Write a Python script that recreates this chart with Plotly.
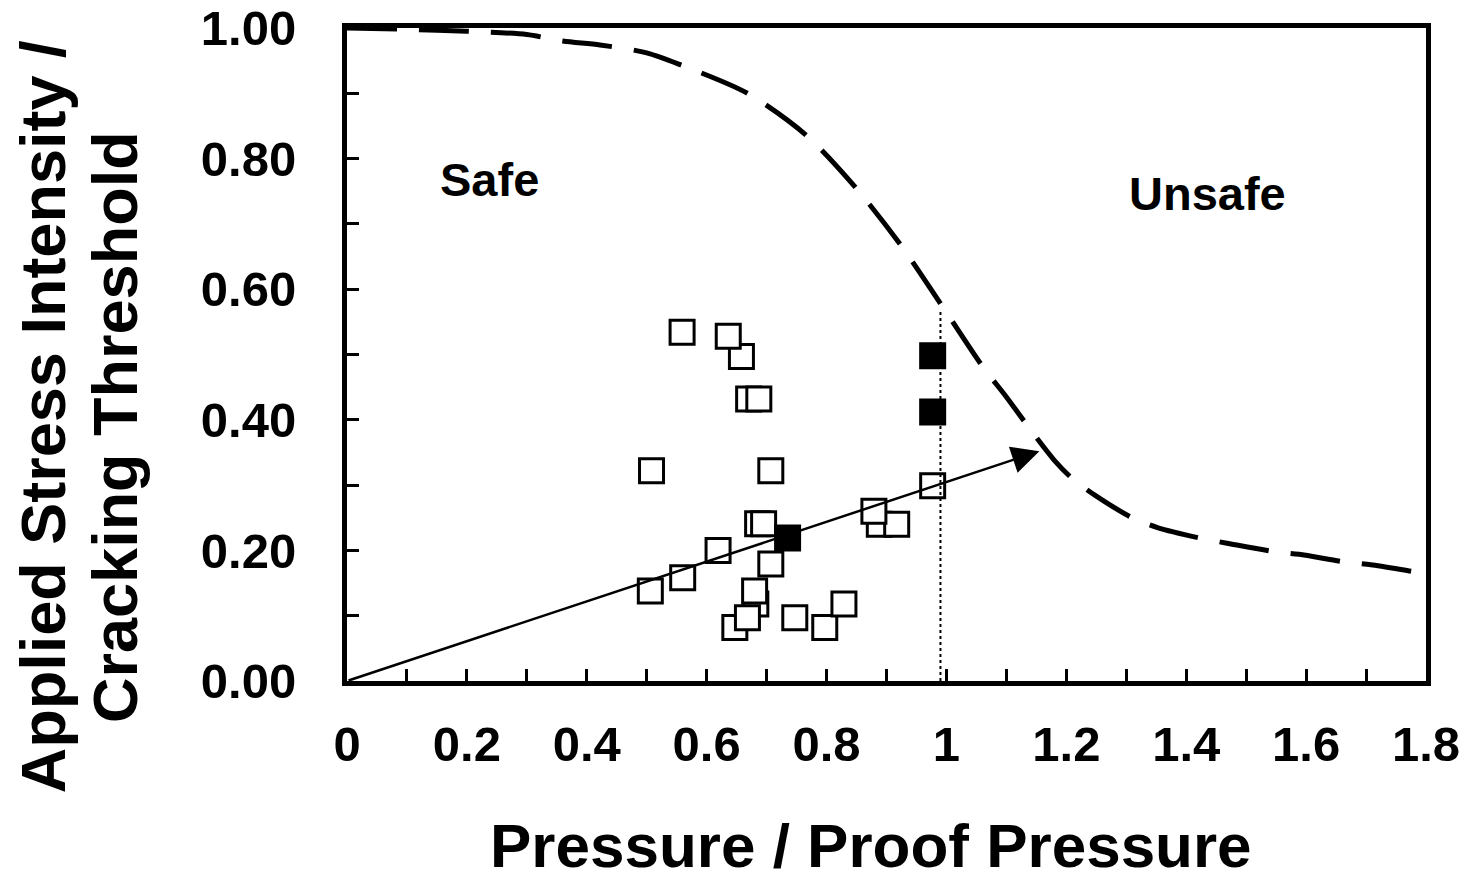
import plotly.graph_objects as go

# Threshold curve (dashed)
curve_x = [0.0, 0.1, 0.2, 0.3, 0.36, 0.422, 0.5, 0.558, 0.668, 0.767, 0.85, 0.925, 0.993,
           1.06, 1.10, 1.14, 1.18, 1.21, 1.25, 1.31, 1.352, 1.427, 1.468, 1.547, 1.588,
           1.667, 1.708, 1.79, 1.8]
curve_y = [1.0, 0.998, 0.995, 0.99, 0.98, 0.974, 0.962, 0.943, 0.9, 0.835, 0.754, 0.666, 0.574,
           0.482, 0.435, 0.385, 0.338, 0.31, 0.283, 0.25, 0.235, 0.218, 0.211, 0.198, 0.194,
           0.182, 0.178, 0.166, 0.165]

# Open squares (later entries drawn on top)
open_x = [0.559, 0.658, 0.636, 0.670, 0.687, 0.508, 0.707, 0.506, 0.560, 0.619, 0.685,
          0.695, 0.682, 0.680, 0.707, 0.647, 0.668, 0.747, 0.797, 0.829, 0.888, 0.917,
          0.879, 0.977]
open_y = [0.534, 0.497, 0.528, 0.432, 0.432, 0.322, 0.322, 0.138, 0.158, 0.200, 0.241,
          0.241, 0.118, 0.138, 0.179, 0.082, 0.097, 0.097, 0.082, 0.118, 0.240, 0.240,
          0.260, 0.299]

# Filled squares
filled_x = [0.977, 0.977, 0.735]
filled_y = [0.498, 0.412, 0.219]

# Dotted vertical reference at proof pressure
dot_x = [0.99, 0.99]
dot_y = [0.0, 0.565]

# Arrow (load line)
arrow_start = (0.0, 0.0)
arrow_end = (1.155, 0.352)

x_tickvals = [0, 0.2, 0.4, 0.6, 0.8, 1.0, 1.2, 1.4, 1.6, 1.8]
x_ticktext = ["0", "0.2", "0.4", "0.6", "0.8", "1", "1.2", "1.4", "1.6", "1.8"]
y_tickvals = [0.0, 0.2, 0.4, 0.6, 0.8, 1.0]
y_ticktext = ["0.00", "0.20", "0.40", "0.60", "0.80", "1.00"]

FONT = "Liberation Sans"

fig = go.Figure()

fig.add_trace(go.Scatter(x=open_x, y=open_y, mode="markers",
                         marker=dict(symbol="square", size=24, color="white",
                                     line=dict(width=3, color="black")),
                         showlegend=False))
fig.add_trace(go.Scatter(x=filled_x, y=filled_y, mode="markers",
                         marker=dict(symbol="square", size=25, color="black",
                                     line=dict(width=2, color="black")),
                         showlegend=False))
fig.add_trace(go.Scatter(x=dot_x, y=dot_y, mode="lines",
                         line=dict(color="black", width=2, dash="dot"),
                         showlegend=False, hoverinfo="skip"))
fig.add_trace(go.Scatter(x=curve_x, y=curve_y, mode="lines",
                         line=dict(color="black", width=5, dash="50px,22px", shape="spline",
                                   smoothing=0.8),
                         showlegend=False))

fig.add_annotation(x=arrow_end[0], y=arrow_end[1], ax=arrow_start[0], ay=arrow_start[1],
                   xref="x", yref="y", axref="x", ayref="y", text="",
                   showarrow=True, arrowhead=2, arrowsize=2.2, arrowwidth=2.5,
                   arrowcolor="black", standoff=0)

fig.add_annotation(x=0.238, y=0.768, xref="x", yref="y", text="Safe", showarrow=False,
                   font=dict(family=FONT, size=47, color="black", weight="bold"))
fig.add_annotation(x=1.435, y=0.746, xref="x", yref="y", text="Unsafe", showarrow=False,
                   font=dict(family=FONT, size=47, color="black", weight="bold"))

fig.add_annotation(x=0.4856, y=-0.252, xref="paper", yref="paper", xanchor="center",
                   yanchor="middle", text="Pressure / Proof Pressure", showarrow=False,
                   font=dict(family=FONT, size=62, color="black", weight="bold"))
fig.add_annotation(x=-0.2817, y=0.404, xref="paper", yref="paper", xanchor="center",
                   yanchor="middle", textangle=-90,
                   text="Applied Stress Intensity /", showarrow=False,
                   font=dict(family=FONT, size=63, color="black", weight="bold"))
fig.add_annotation(x=-0.215, y=0.389, xref="paper", yref="paper", xanchor="center",
                   yanchor="middle", textangle=-90,
                   text="Cracking Threshold", showarrow=False,
                   font=dict(family=FONT, size=63, color="black", weight="bold"))

axis_common = dict(showline=True, linecolor="black", linewidth=5, mirror=True,
                   showgrid=False, zeroline=False, ticks="inside", ticklen=12,
                   tickwidth=3, tickcolor="black", automargin=False,
                   ticklabeloverflow="allow",
                   tickfont=dict(family=FONT, size=49, color="black", weight="bold"),
                   minor=dict(dtick=0.1, ticks="inside", ticklen=12, tickwidth=3,
                              tickcolor="black", showgrid=False))

fig.update_xaxes(range=[0, 1.8], tickvals=x_tickvals, ticktext=x_ticktext,
                 ticklabelstandoff=16, **axis_common)
fig.update_yaxes(range=[0, 1.0], tickvals=y_tickvals, ticktext=y_ticktext,
                 ticklabelstandoff=36, **axis_common)

fig.update_layout(width=1458, height=865, plot_bgcolor="white", paper_bgcolor="white",
                  margin=dict(l=339, r=40, t=20, b=192, autoexpand=False), showlegend=False)

fig.write_html("out.html")
